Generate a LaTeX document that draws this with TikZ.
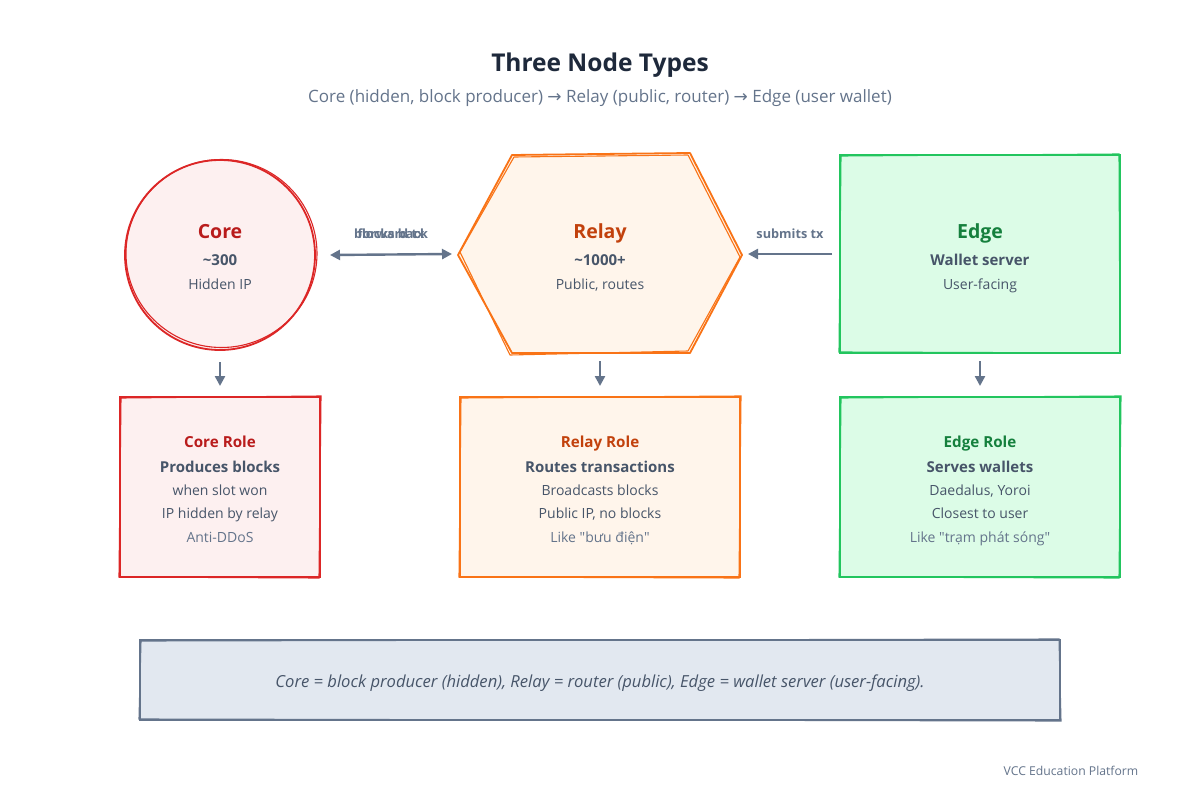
\documentclass[tikz,border=0pt]{standalone}
\usepackage{fontspec}
\setmainfont{Open Sans}
\newfontfamily\symfont{DejaVu Sans}
\newfontfamily\qfont{Open Sans}
\usetikzlibrary{arrows.meta,calc}
\definecolor{corered}{HTML}{DC2626}
\definecolor{corefill}{HTML}{FDF0F0}
\definecolor{coretext}{HTML}{B91C1C}
\definecolor{relayor}{HTML}{F97316}
\definecolor{relayfill}{HTML}{FFF5EB}
\definecolor{relaytext}{HTML}{C2410C}
\definecolor{edgegr}{HTML}{22C55E}
\definecolor{edgefill}{HTML}{DCFCE7}
\definecolor{edgetext}{HTML}{15803D}
\definecolor{slate}{HTML}{475569}
\definecolor{slatelt}{HTML}{64748B}
\definecolor{titlec}{HTML}{1E293B}
\definecolor{notefill}{HTML}{E2E8F0}
\newcommand{\rarr}{{\symfont →}}
\newcommand{\dq}{{\qfont\char34\relax}}
\tikzset{
  tx/.style={inner sep=0pt, text height=#1, text depth=0pt},
  arr/.style={draw=slatelt, line width=2.4pt, -{Triangle[length=10pt,width=10pt]}},
  arrboth/.style={draw=slatelt, line width=2.4pt, {Triangle[length=10pt,width=10pt]}-{Triangle[length=10pt,width=10pt]}},
  titlet/.style={tx=19.6pt, font=\fontsize{24.5}{24.5}\selectfont\bfseries, text=titlec},
  subtitlet/.style={tx=13.6pt, font=\fontsize{17}{17}\selectfont, text=slatelt},
  lbl/.style={tx=10.16pt, font=\fontsize{12.7}{12.7}\selectfont\bfseries, text=slatelt},
  headt/.style={tx=15.6pt, font=\fontsize{19.5}{19.5}\selectfont\bfseries},
  subt/.style={tx=12pt, font=\fontsize{15}{15}\selectfont\bfseries, text=slate},
  linet/.style={tx=11.2pt, font=\fontsize{14}{14}\selectfont, text=slate},
  lastt/.style={tx=11.2pt, font=\fontsize{14}{14}\selectfont, text=slatelt},
  roleh/.style={tx=12.16pt, font=\fontsize{15.2}{15.2}\selectfont\bfseries},
  notet/.style={tx=13.28pt, font=\fontsize{16.6}{16.6}\selectfont\itshape, text=slate},
  foott/.style={tx=9.76pt, font=\fontsize{12.2}{12.2}\selectfont, text=slatelt},
  box/.style={inner sep=0pt, outer sep=0pt},
}
\begin{document}
\begin{tikzpicture}[x=1pt,y=-1pt]
\useasboundingbox (0,0) rectangle (1200,800);
\fill[white] (0,0) rectangle (1200,800);

% title
\node[titlet] (title) at (600,62) {Three Node Types};
\node[subtitlet] (subtitle) at (600,96) {Core (hidden, block producer) \rarr{} Relay (public, router) \rarr{} Edge (user wallet)};

% Core circle
\node[box, circle, minimum size=190pt, fill=corefill, draw=corered, line width=1.8pt] (core) at (220,255) {};
\draw[corered, line width=1.1pt] (221.5,253.5) ellipse (95.5 and 94);
\node[headt, text=coretext] (coreT) at (220,231) {Core};
\node[subt] (coreN) at (220,259) {\textasciitilde300};
\node[linet] (coreD) at (220,284) {Hidden IP};

% Relay hexagon
\node[box, minimum width=284pt, minimum height=198pt] (relay) at (600,254) {};
\fill[relayfill] (458,255) -- (512,155) -- (690,155) -- (742,255) -- (690,353) -- (512,353) -- cycle;
\draw[relayor, line width=1.8pt, line join=round] (458,255) -- (512,155) -- (690,153) -- (742,255) -- (690,353) -- (512,353) -- cycle;
\draw[relayor, line width=1.1pt, line join=round] (460,252) -- (514,157) -- (688,155) -- (740,257) -- (688,351) -- (510,355) -- cycle;
\node[headt, text=relaytext] (relayT) at (600,231) {Relay};
\node[subt] (relayN) at (600,259) {\textasciitilde1000+};
\node[linet] (relayD) at (600,284) {Public, routes};

% Edge rectangle
\node[box, minimum width=280pt, minimum height=198pt, fill=edgefill, draw=edgegr, line width=1.8pt] (edge) at (980,254) {};
\draw[edgegr, line width=1.1pt] (841,156) -- (1119,154) -- (1120,353) -- (839,352) -- cycle;
\node[headt, text=edgetext] (edgeT) at (980,231) {Edge};
\node[subt] (edgeN) at (980,259) {Wallet server};
\node[linet] (edgeD) at (980,284) {User-facing};

% horizontal connectors
\draw[arrboth] ([xshift=15pt]core.east) -- ([xshift=-6pt]relay.west);
\node[lbl] (lblA) at (391,233) {blocks back};
\node[lbl] (lblB) at (391,233) {forward tx};
\draw[arr] ([xshift=-8pt]edge.west) -- ([xshift=6pt]relay.east);
\node[lbl] (lblC) at (790,233) {submits tx};

% role boxes
\node[box, minimum width=200pt, minimum height=180pt, fill=corefill, draw=corered, line width=1.8pt] (corerole) at (220,487) {};
\draw[corered, line width=1.1pt] (121,398) -- (321,396) -- (319,578) -- (119,577) -- cycle;
\node[box, minimum width=280pt, minimum height=180pt, fill=relayfill, draw=relayor, line width=1.8pt] (relayrole) at (600,487) {};
\draw[relayor, line width=1.1pt] (461,398) -- (741,396) -- (739,578) -- (459,577) -- cycle;
\node[box, minimum width=280pt, minimum height=180pt, fill=edgefill, draw=edgegr, line width=1.8pt] (edgerole) at (980,487) {};
\draw[edgegr, line width=1.1pt] (841,398) -- (1121,396) -- (1119,578) -- (839,577) -- cycle;

% down connectors
\draw[arr] ([yshift=-12pt]core.south) -- ([yshift=11pt]corerole.north);
\draw[arr] ([yshift=-8pt]relay.south) -- ([yshift=11pt]relayrole.north);
\draw[arr] ([yshift=-8pt]edge.south) -- ([yshift=11pt]edgerole.north);

% role texts
\node[roleh, text=coretext] (cr1) at (220,441) {Core Role};
\node[subt] (cr2) at (220,466) {Produces blocks};
\node[linet] (cr3) at (220,490) {when slot won};
\node[linet] (cr4) at (220,513) {IP hidden by relay};
\node[lastt] (cr5) at (220,537) {Anti-DDoS};

\node[roleh, text=relaytext] (rr1) at (600,441) {Relay Role};
\node[subt] (rr2) at (600,466) {Routes transactions};
\node[linet] (rr3) at (600,490) {Broadcasts blocks};
\node[linet] (rr4) at (600,513) {Public IP, no blocks};
\node[lastt] (rr5) at (600,537) {Like \dq bưu điện\dq};

\node[roleh, text=edgetext] (er1) at (980,441) {Edge Role};
\node[subt] (er2) at (980,466) {Serves wallets};
\node[linet] (er3) at (980,490) {Daedalus, Yoroi};
\node[linet] (er4) at (980,513) {Closest to user};
\node[lastt] (er5) at (980,537) {Like \dq trạm phát sóng\dq};

% bottom note
\node[box, minimum width=920pt, minimum height=80pt, fill=notefill, draw=slatelt, line width=1.8pt] (note) at (600,680) {};
\draw[slatelt, line width=1.1pt] (141,641) -- (1059,639) -- (1061,721) -- (139,719) -- cycle;
\node[notet] (noteT) at (600,681) {Core = block producer (hidden), Relay = router (public), Edge = wallet server (user-facing).};

% footer
\node[foott] (footer) at (1071,771) {VCC Education Platform};
\end{tikzpicture}
\end{document}
